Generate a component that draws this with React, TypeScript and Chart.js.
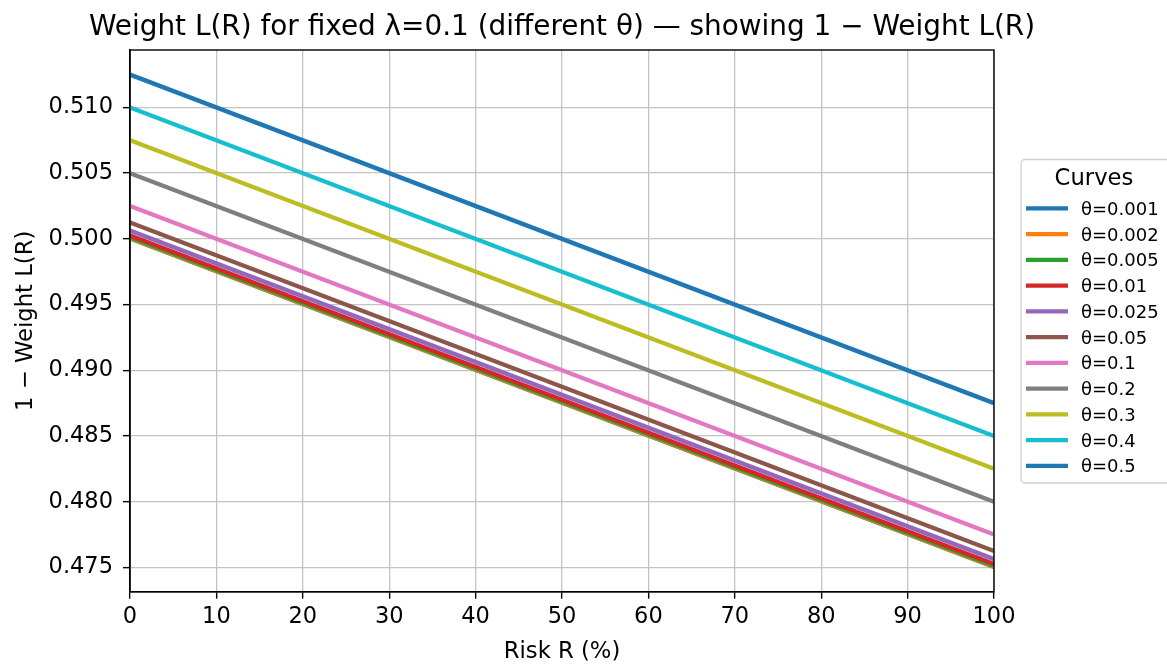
import React, { useEffect, useRef } from "react";
import { Chart, registerables } from "chart.js";

Chart.register(...registerables);

// Risk R (%) at which each curve is sampled
const riskR = [0, 100];

// Curve labels, one per θ
const thetaLabels = [
  "θ=0.001",
  "θ=0.002",
  "θ=0.005",
  "θ=0.01",
  "θ=0.025",
  "θ=0.05",
  "θ=0.1",
  "θ=0.2",
  "θ=0.3",
  "θ=0.4",
  "θ=0.5",
];

// 1 − Weight L(R) at R = 0 %
const valuesAtR0 = [
  0.500025, 0.50005, 0.500125, 0.50025, 0.500625, 0.50125, 0.5025, 0.505,
  0.5075, 0.51, 0.5125,
];

// 1 − Weight L(R) at R = 100 %
const valuesAtR100 = [
  0.475025, 0.47505, 0.475125, 0.47525, 0.475625, 0.47625, 0.4775, 0.48,
  0.4825, 0.485, 0.4875,
];

// y-axis tick labels
const yTicks = [0.475, 0.48, 0.485, 0.49, 0.495, 0.5, 0.505, 0.51];

const palette = [
  "#1f77b4",
  "#ff7f0e",
  "#2ca02c",
  "#d62728",
  "#9467bd",
  "#8c564b",
  "#e377c2",
  "#7f7f7f",
  "#bcbd22",
  "#17becf",
  "#1f77b4",
];

const FONT = "'DejaVu Sans', 'Liberation Sans', sans-serif";
const W = 1167;
const H = 664;
const LINE_W = 4.3;

const decorations = {
  id: "decorations",
  afterDatasetsDraw(chart: any) {
    const { ctx, chartArea } = chart;
    const { left, right, top, bottom } = chartArea;
    ctx.save();

    // frame
    ctx.strokeStyle = "#000";
    ctx.lineWidth = 1.4;
    ctx.strokeRect(left, top, right - left, bottom - top);

    ctx.fillStyle = "#000";
    const cx = (left + right) / 2;

    // title
    ctx.font = `27.9px ${FONT}`;
    ctx.textAlign = "center";
    ctx.textBaseline = "alphabetic";
    ctx.fillText(
      "Weight L(R) for fixed λ=0.1 (different θ) — showing 1 − Weight L(R)",
      cx,
      35
    );

    // axis titles
    ctx.font = `22.7px ${FONT}`;
    ctx.fillText("Risk R (%)", cx, 658);
    ctx.save();
    ctx.translate(31.5, (top + bottom) / 2);
    ctx.rotate(-Math.PI / 2);
    ctx.fillText("1 − Weight L(R)", 0, 0);
    ctx.restore();

    // legend
    const bx = 1021;
    const by = 159.5;
    const bw = 152;
    const bh = 323.5;
    const r = 4;
    ctx.beginPath();
    ctx.moveTo(bx + r, by);
    ctx.lineTo(bx + bw - r, by);
    ctx.arcTo(bx + bw, by, bx + bw, by + r, r);
    ctx.lineTo(bx + bw, by + bh - r);
    ctx.arcTo(bx + bw, by + bh, bx + bw - r, by + bh, r);
    ctx.lineTo(bx + r, by + bh);
    ctx.arcTo(bx, by + bh, bx, by + bh - r, r);
    ctx.lineTo(bx, by + r);
    ctx.arcTo(bx, by, bx + r, by, r);
    ctx.closePath();
    ctx.fillStyle = "rgba(255,255,255,0.85)";
    ctx.fill();
    ctx.strokeStyle = "#d0d0d0";
    ctx.lineWidth = 1.3;
    ctx.stroke();

    ctx.fillStyle = "#000";
    ctx.font = `22.7px ${FONT}`;
    ctx.textAlign = "center";
    ctx.fillText("Curves", 1094, 185);

    ctx.font = `18px ${FONT}`;
    ctx.textAlign = "left";
    thetaLabels.forEach((label, i) => {
      const y = 208.3 + 25.75 * i;
      ctx.strokeStyle = palette[i];
      ctx.lineWidth = LINE_W;
      ctx.beginPath();
      ctx.moveTo(1026, y);
      ctx.lineTo(1068, y);
      ctx.stroke();
      ctx.fillStyle = "#000";
      ctx.fillText(label, 1081, y + 6.6);
    });

    ctx.restore();
  },
};

export default function App() {
  const canvasRef = useRef<HTMLCanvasElement | null>(null);

  useEffect(() => {
    document.body.style.margin = "0";
    const canvas = canvasRef.current;
    if (!canvas) return;

    const datasets = thetaLabels.map((label, i) => ({
      label,
      data: riskR.map((r, k) => ({
        x: r,
        y: k === 0 ? valuesAtR0[i] : valuesAtR100[i],
      })),
      borderColor: palette[i],
      backgroundColor: palette[i],
      borderWidth: LINE_W,
      pointRadius: 0,
      tension: 0,
      fill: false,
      order: -i,
    }));

    const chart = new Chart(canvas, {
      type: "line",
      data: { datasets },
      options: {
        animation: false,
        responsive: false,
        devicePixelRatio: 1,
        layout: { padding: { top: 50, right: 173, left: 0, bottom: 0 } },
        plugins: {
          legend: { display: false },
          title: { display: false },
          tooltip: { enabled: false },
        },
        scales: {
          x: {
            type: "linear",
            min: 0,
            max: 100,
            ticks: {
              stepSize: 10,
              color: "#000",
              font: { family: FONT, size: 22.5 },
              padding: 5,
              maxRotation: 0,
            },
            grid: {
              color: "#c4c4c4",
              lineWidth: 1.3,
              tickColor: "#000",
              tickLength: 7,
              tickWidth: 1.4,
            },
            border: { display: true, color: "#000", width: 1.4 },
            afterFit(scale: any) {
              scale.height = 72.3;
            },
          },
          y: {
            type: "linear",
            min: 0.47315,
            max: 0.51437,
            afterBuildTicks(scale: any) {
              scale.ticks = yTicks.map((v) => ({ value: v }));
            },
            ticks: {
              color: "#000",
              font: { family: FONT, size: 22.5 },
              padding: 10,
              callback: (v: any) => Number(v).toFixed(3),
            },
            grid: {
              color: "#c4c4c4",
              lineWidth: 1.3,
              tickColor: "#000",
              tickLength: 7,
              tickWidth: 1.4,
            },
            border: { display: true, color: "#000", width: 1.4 },
            afterFit(scale: any) {
              scale.width = 130;
            },
          },
        },
      },
      plugins: [decorations],
    });

    return () => chart.destroy();
  }, []);

  return (
    <div
      style={{
        position: "fixed",
        left: 0,
        top: 0,
        width: W,
        height: H,
        background: "#fff",
      }}
    >
      <canvas ref={canvasRef} width={W} height={H} style={{ width: W, height: H }} />
    </div>
  );
}
